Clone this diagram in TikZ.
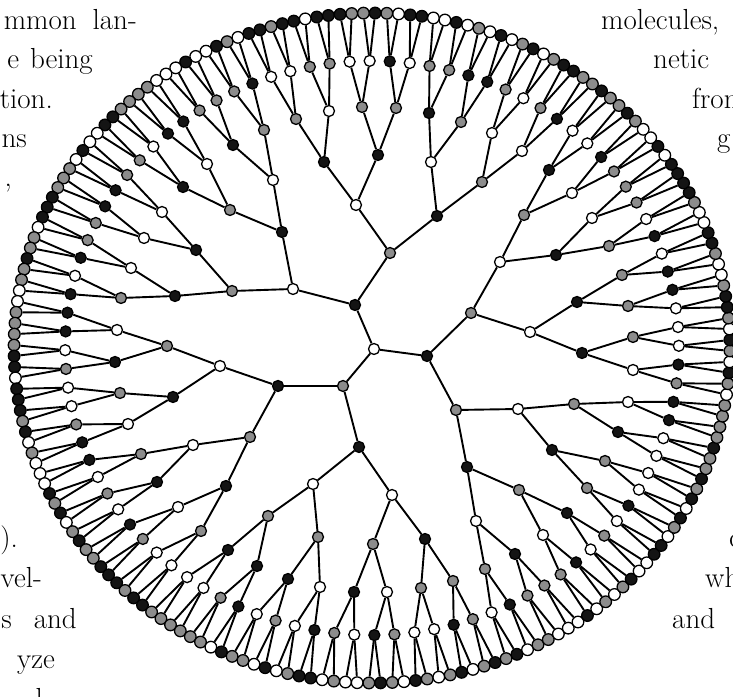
\documentclass[tikz,border=0pt]{standalone}
\usetikzlibrary{calc}
\definecolor{ngray}{gray}{0.55}
\definecolor{nblack}{gray}{0.08}
\tikzset{
  tnode/.style={circle, draw=black, line width=1.3pt, minimum size=11pt, inner sep=0pt},
  c0/.style={tnode, fill=white},
  c1/.style={tnode, fill=ngray},
  c2/.style={tnode, fill=nblack},
  leaf/.style={minimum size=11.6pt},
  tedge/.style={line width=1.9pt, black},
  txt/.style={inner sep=0pt, font=\fontsize{29}{34}\selectfont}
}
\def\cx{372}
\def\cy{348}
\def\rx{358}
\def\ry{335}
% level placed from measured positions (image pixel coordinates x/y/colour)
\newcommand\placelevel[2]{%
  \foreach \px/\py/\c [count=\i from 0] in {#2} {
    \node[c\c] (n-#1-\i) at (\px,{696-\py}) {};
  }}
% level placed on the ellipse
\newcommand\drawlevel[3]{%
  \foreach \c [count=\i from 0] in {#2} {
    \pgfmathsetmacro\spn{2^(7-#1)}
    \pgfmathsetmacro\ang{292+(\i*\spn+(\spn-1)/2)*1.875}
    \pgfmathsetmacro\fr{#1/7}
    \node[c\c,#3] (n-#1-\i) at ({\cx+\rx*\fr*cos(\ang)},{\cy+\ry*\fr*sin(\ang)}) {};
  }}
\newcommand\drawedges[2]{%
  \foreach \i in {0,...,#2} {
    \pgfmathtruncatemacro\p{floor(\i/2)}
    \pgfmathtruncatemacro\q{#1-1}
    \draw[tedge] (n-#1-\i) -- (n-\q-\p);
  }}
\begin{document}
\begin{tikzpicture}[x=1pt,y=1pt]
\useasboundingbox (0,0) rectangle (733,696);
% tree nodes
\placelevel{0}{374/349/0}
\placelevel{1}{427/356/2, 355/305/2, 343/386/1}
\placelevel{2}{456/410/1, 471/313/1, 390/253/1, 293/289/0, 278/386/2, 359/447/2}
\placelevel{3}{467/467/2, 518/409/0, 530/332/0, 500/262/0, 437/216/2, 356/205/0,
  282/232/2, 232/291/1, 220/366/0, 250/437/1, 313/484/0, 392/495/0}
\placelevel{4}{476/521/0, 519/490/1, 552/450/2, 574/404/1, 582/353/2, 577/302/2,
  556/255/2, 524/215/1, 482/182/1, 431/162/0, 378/155/2, 324/162/2,
  273/180/0, 230/210/1, 196/250/2, 175/296/2, 167/346/1, 173/397/2,
  193/445/0, 226/486/2, 268/516/1, 318/537/1, 373/544/1, 425/539/2}
\placelevel{5}{485/569/1, 515/554/2, 543/535/0, 567/513/2, 587/488/1, 605/461/1,
  618/432/2, 628/402/0, 633/370/0, 633/337/1, 628/306/1, 622/275/1,
  609/246/1, 592/218/0, 572/193/0, 549/170/2, 522/151/0, 492/133/0,
  461/122/1, 429/113/2, 396/108/1, 362/107/1, 329/111/0, 296/119/1,
  264/130/1, 233/145/2, 207/164/0, 183/187/2, 162/212/0, 144/238/0,
  131/268/0, 121/298/1, 117/330/0, 115/362/2, 120/393/1, 128/424/0,
  141/454/1, 157/482/2, 178/507/0, 201/531/1, 228/550/2, 257/566/2,
  288/579/2, 320/587/0, 354/592/2, 387/592/0, 421/588/1, 453/581/1}
\drawlevel{6}{0,2,1,1,1,2,0,1,0,2, 0,0,0,0,2,2,1,2,0,0, 0,2,2,0,2,0,1,1,1,2,
  0,0,2,1,0,1,2,2,1,1, 0,2,0,0,1,1,0,0,2,1, 1,1,2,2,0,1,1,2,2,1,
  1,2,0,2,2,2,0,1,0,0, 1,2,2,0,1,0,2,1,0,0, 0,0,1,2,0,1,0,2,1,0,
  2,1,0,0,2,1}{}
\drawlevel{7}{1,2,0,1,1,0,0,0,2,0, 1,0,1,2,0,0,2,2,0,1, 2,0,2,1,2,1,1,2,1,1,
  1,1,0,1,2,0,1,2,0,1, 2,2,1,0,0,1,2,2,0,0, 1,2,2,2,2,0,2,0,0,1,
  2,1,1,2,1,1,2,2,1,0, 2,1,0,2,0,1,0,2,0,0, 2,2,0,1,2,1,1,2,2,2,
  0,2,2,1,2,2,0,1,2,0, 0,2,0,0,0,1,1,1,1,2, 2,0,0,2,0,1,1,1,2,2,
  2,0,1,1,2,1,1,0,0,1, 1,1,1,2,2,0,2,2,2,1, 2,0,1,0,0,0,2,1,2,0,
  1,2,1,1,2,2,2,1,2,2, 1,1,1,1,1,1,0,2,1,1, 0,2,0,1,2,2,0,1,0,0,
  1,2,1,0,2,1,0,1,2,0, 1,2}{leaf}
% connectors
\foreach \i in {0,1,2} {\draw[tedge] (n-1-\i) -- (n-0-0);}
\drawedges{2}{5}
\drawedges{3}{11}
\drawedges{4}{23}
\drawedges{5}{47}
\drawedges{6}{95}
\drawedges{7}{191}
% surrounding page text
\node[txt, anchor=base east] (t1) at (137,666) {mmon\hspace{16pt}lan-};
\node[txt, anchor=base east] (t2) at (93,627) {e\hspace{11pt}being};
\node[txt, anchor=base east] (t3) at (53,587) {tion.};
\node[txt, anchor=base east] (t4) at (27,548) {ns};
\node[txt, anchor=base east] (t5) at (12,509) {,};
\node[txt, anchor=base east] (t6) at (18,148) {).};
\node[txt, anchor=base east] (t7) at (42,108) {vel-};
\node[txt, anchor=base east] (t8) at (77,68) {s\hspace{22pt}and};
\node[txt, anchor=base east] (t9) at (55,28) {yze};
\node[txt, anchor=base east] (t10) at (43,-12) {l};
\node[txt, anchor=base west] (t11) at (601,666) {molecules,};
\node[txt, anchor=base west] (t12) at (653,627) {netic};
\node[txt, anchor=base west] (t13) at (692,587) {from};
\node[txt, anchor=base west] (t14) at (717,548) {g};
\node[txt, anchor=base west] (t15) at (729,148) {c};
\node[txt, anchor=base west] (t16) at (705,108) {wh};
\node[txt, anchor=base west] (t17) at (672,68) {and};
\end{tikzpicture}
\end{document}
